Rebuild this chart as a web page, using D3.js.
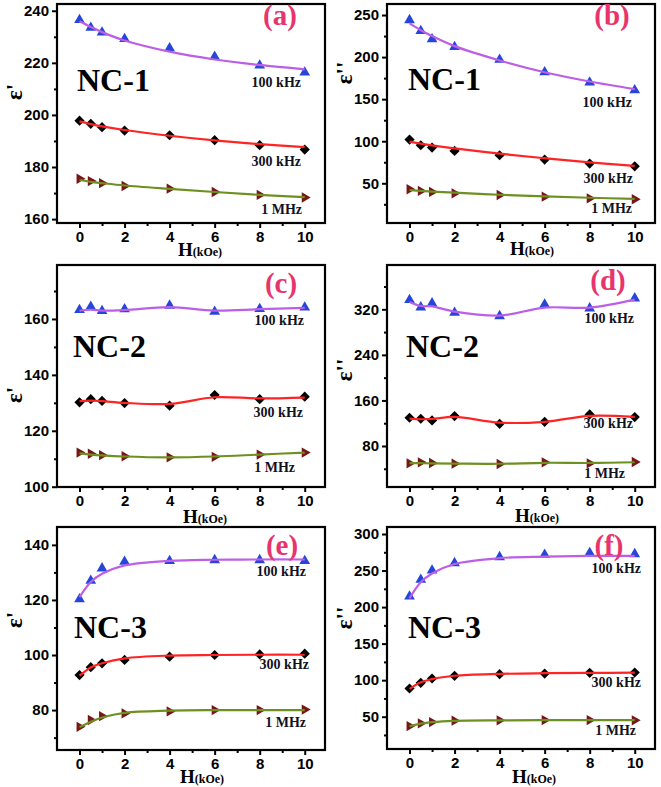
<!DOCTYPE html>
<html><head><meta charset="utf-8">
<script src="https://cdn.jsdelivr.net/npm/d3@7"></script>
<style>body{margin:0;background:#fff}</style>
</head><body>
<svg id="chart" width="661" height="787"></svg>
<script>
// ---------- data ----------
const fieldH = [0, 0.5, 1, 2, 4, 6, 8, 10];
const xMajor = [0, 2, 4, 6, 8, 10];
const xMinor = [1, 3, 5, 7, 9];
const freqLabels = ['100 kHz', '300 kHz', '1 MHz'];
const panelTags = ['(a)', '(b)', '(c)', '(d)', '(e)', '(f)'];
const sampleNames = ['NC-1', 'NC-1', 'NC-2', 'NC-2', 'NC-3', 'NC-3'];
const yTitles = ["ε'", "ε''", "ε'", "ε''", "ε'", "ε''"];

const a100 = [236.5, 233.5, 231.7, 229.2, 225.6, 222.4, 219.0, 216.3];
const a100fit = [236.0, 233.8, 231.8, 228.6, 224.3, 221.3, 219.2, 217.5];
const a300 = [197.8, 196.6, 195.3, 194.0, 192.2, 190.3, 188.4, 186.7];
const a300fit = [197.5, 196.5, 195.6, 194.2, 192.0, 190.2, 188.8, 187.6];
const a1M = [175.5, 174.6, 173.8, 172.7, 171.7, 170.4, 169.3, 168.3];
const a1Mfit = [175.0, 174.3, 173.8, 172.9, 171.6, 170.4, 169.3, 168.4];

const b100 = [244.0, 231.0, 221.4, 212.0, 197.0, 182.0, 169.8, 160.7];
const b100fit = [240.0, 232.0, 225.0, 213.0, 196.0, 182.0, 171.0, 162.0];
const b300 = [102.0, 95.2, 92.5, 88.5, 83.3, 78.2, 73.4, 70.2];
const b300fit = [99.5, 97.2, 95.1, 91.5, 85.2, 79.8, 74.8, 70.6];
const b1M = [42.9, 40.9, 39.7, 38.1, 36.1, 34.1, 32.1, 31.0];
const b1Mfit = [42.0, 41.0, 40.2, 38.8, 36.4, 34.5, 32.8, 31.4];

const c100 = [163.2, 164.4, 162.9, 163.5, 164.8, 162.6, 163.6, 164.1];
const c100fit = [163.0, 163.3, 163.0, 163.2, 164.2, 163.0, 163.5, 164.0];
const c300 = [130.2, 131.3, 130.7, 129.9, 129.0, 132.8, 131.3, 132.2];
const c300fit = [130.6, 130.8, 130.6, 130.0, 129.6, 132.0, 131.6, 131.9];
const c1M = [112.2, 111.8, 111.3, 110.9, 110.5, 110.7, 111.5, 112.2];
const c1Mfit = [111.9, 111.5, 111.2, 110.8, 110.5, 110.8, 111.5, 112.2];

const d100 = [336.4, 323.5, 330.5, 314.1, 308.2, 328.7, 321.8, 339.3];
const d100fit = [333, 326, 325, 316, 309, 323, 323, 337];
const d300 = [129.6, 127.8, 124.9, 132.5, 119.0, 122.5, 135.4, 130.7];
const d300fit = [128, 127, 127.5, 131, 121, 122.5, 133, 131];
const d1M = [49.6, 51.3, 50.1, 49.0, 48.4, 51.3, 49.6, 51.9];
const d1Mfit = [50.0, 49.8, 49.6, 49.2, 48.8, 50.5, 50.2, 51.5];

const e100 = [120.3, 127.0, 131.5, 133.9, 134.2, 134.5, 134.5, 134.2];
const e100fit = [121.0, 126.5, 129.5, 132.5, 134.2, 134.6, 134.7, 134.7];
const e300 = [92.7, 95.6, 97.0, 98.2, 99.4, 100.0, 100.2, 100.5];
const e300fit = [92.5, 95.5, 97.0, 98.8, 99.8, 100.0, 100.1, 100.1];
const e1M = [73.9, 76.4, 77.8, 78.8, 79.5, 80.0, 80.0, 80.2];
const e1Mfit = [73.8, 75.8, 77.3, 79.0, 79.8, 80.0, 80.0, 80.0];

const f100 = [214.6, 237.4, 250.2, 260.3, 268.5, 271.7, 274.0, 272.6];
const f100fit = [212, 234, 246, 259, 267, 269, 270, 270];
const f300 = [88.6, 96.3, 102.3, 105.9, 108.2, 109.0, 110.0, 110.5];
const f300fit = [88.0, 97.0, 101.5, 106.0, 108.5, 109.5, 110.0, 110.2];
const f1M = [37.2, 40.9, 42.7, 44.5, 45.0, 45.4, 45.4, 45.0];
const f1Mfit = [37.0, 40.5, 42.5, 44.3, 45.0, 45.2, 45.2, 45.2];

const yMajorA = [160, 180, 200, 220, 240], yMinorA = [170, 190, 210, 230];
const yMajorB = [50, 100, 150, 200, 250], yMinorB = [25, 75, 125, 175, 225];
const yMajorC = [100, 120, 140, 160], yMinorC = [110, 130, 150, 170];
const yMajorD = [80, 160, 240, 320], yMinorD = [40, 120, 200, 280, 360];
const yMajorE = [80, 100, 120, 140], yMinorE = [70, 90, 110, 130];
const yMajorF = [50, 100, 150, 200, 250, 300], yMinorF = [25, 75, 125, 175, 225, 275];

const yDomains = [[158.5, 242.6], [2.8, 263.1], [99.9, 179.3], [8, 397.8], [65.5, 146.5], [5.8, 309.6]];
const xDomain = [-1, 10.9];

// ---------- layout / style ----------
const frames = [
  {l: 57, t: 4, r: 325, b: 223},
  {l: 387, t: 4, r: 655, b: 223},
  {l: 57, t: 265, r: 325, b: 487},
  {l: 387, t: 265, r: 655, b: 487},
  {l: 57, t: 527, r: 325, b: 750},
  {l: 387, t: 527, r: 655, b: 749}
];
const annot = [
  {tag: [280, 25], nc: [77, 91], eps: [15, 92], h: [178, 256], fl: [[301, 87], [301, 166], [302, 214]]},
  {tag: [612, 25], nc: [408, 90], eps: [345, 73], h: [510, 255], fl: [[632, 107], [633, 183], [632, 213]]},
  {tag: [281, 293], nc: [73, 357], eps: [15, 395], h: [183, 523], fl: [[304, 325], [303, 417], [295, 472]]},
  {tag: [608, 290], nc: [406, 357], eps: [345, 370], h: [515, 522], fl: [[634, 323], [633, 428], [625, 478]]},
  {tag: [282, 555], nc: [74, 638], eps: [15, 620], h: [180, 783], fl: [[306, 576], [309, 669], [306, 727]]},
  {tag: [609, 555], nc: [408, 638], eps: [345, 618], h: [512, 783], fl: [[641, 573], [641, 687], [636, 735]]}
];
const lineColors = ['#bd5ee6', '#ff2424', '#6e9020'];
const markerColors = ['#2546d8', '#000000', '#761616'];
const serif = '"Liberation Serif","Times New Roman",serif';
const sans = '"Liberation Sans",Arial,sans-serif';

const panelSeries = [
  [[a100, a100fit], [a300, a300fit], [a1M, a1Mfit]],
  [[b100, b100fit], [b300, b300fit], [b1M, b1Mfit]],
  [[c100, c100fit], [c300, c300fit], [c1M, c1Mfit]],
  [[d100, d100fit], [d300, d300fit], [d1M, d1Mfit]],
  [[e100, e100fit], [e300, e300fit], [e1M, e1Mfit]],
  [[f100, f100fit], [f300, f300fit], [f1M, f1Mfit]]
];
const yMajors = [yMajorA, yMajorB, yMajorC, yMajorD, yMajorE, yMajorF];
const yMinors = [yMinorA, yMinorB, yMinorC, yMinorD, yMinorE, yMinorF];

const svg = d3.select('#chart');

const symTri = d3.symbol().type(d3.symbolTriangle).size(50);
const symSq = d3.symbol().type(d3.symbolSquare).size(52);
const symRt = d3.symbol().type(d3.symbolTriangle).size(46);

panelSeries.forEach((series, pi) => {
  const fr = frames[pi], an = annot[pi];
  const x = d3.scaleLinear().domain(xDomain).range([fr.l, fr.r]);
  const y = d3.scaleLinear().domain(yDomains[pi]).range([fr.b, fr.t]);
  const g = svg.append('g');

  // axes
  const xa = g.append('g').attr('transform', `translate(0,${fr.b})`)
    .call(d3.axisBottom(x).tickValues(xMajor).tickSize(5).tickSizeOuter(0).tickPadding(3).tickFormat(d3.format('d')));
  const xm = g.append('g').attr('transform', `translate(0,${fr.b})`)
    .call(d3.axisBottom(x).tickValues(xMinor).tickSize(3).tickSizeOuter(0).tickFormat(''));
  const ya = g.append('g').attr('transform', `translate(${fr.l},0)`)
    .call(d3.axisLeft(y).tickValues(yMajors[pi]).tickSize(5).tickSizeOuter(0).tickPadding(3).tickFormat(d3.format('d')));
  const ym = g.append('g').attr('transform', `translate(${fr.l},0)`)
    .call(d3.axisLeft(y).tickValues(yMinors[pi]).tickSize(3).tickSizeOuter(0).tickFormat(''));
  [xa, xm, ya, ym].forEach(a => {
    a.select('.domain').remove();
    a.selectAll('line').attr('stroke', '#000').attr('stroke-width', 2);
    a.selectAll('text').attr('fill', '#000').style('font-family', sans).style('font-weight', 'bold').style('font-size', '15px');
  });

  // markers
  series.forEach((s, si) => {
    const pts = fieldH.map((h, i) => [h, s[0][i]]);
    g.append('g').selectAll('path').data(pts).join('path')
      .attr('d', si === 0 ? symTri : si === 1 ? symSq : symRt)
      .attr('transform', d => `translate(${x(d[0])},${y(d[1])}) rotate(${si === 0 ? 0 : si === 1 ? 45 : 90})`)
      .attr('fill', markerColors[si]);
  });
  // fitted lines
  series.forEach((s, si) => {
    const pts = fieldH.map((h, i) => [h, s[1][i]]);
    g.append('path').datum(pts)
      .attr('d', d3.line().x(d => x(d[0])).y(d => y(d[1])).curve(d3.curveCatmullRom.alpha(0.5)))
      .attr('fill', 'none').attr('stroke', lineColors[si]).attr('stroke-width', 2.2);
  });

  // frame
  g.append('rect').attr('x', fr.l).attr('y', fr.t).attr('width', fr.r - fr.l).attr('height', fr.b - fr.t)
    .attr('fill', 'none').attr('stroke', '#000').attr('stroke-width', 2.2);

  // texts
  g.append('text').attr('x', an.tag[0]).attr('y', an.tag[1]).attr('text-anchor', 'middle')
    .style('font-family', serif).style('font-weight', 'bold').style('font-size', '29px')
    .attr('fill', '#e8346c').text(panelTags[pi]);
  g.append('text').attr('x', an.nc[0]).attr('y', an.nc[1])
    .style('font-family', serif).style('font-weight', 'bold').style('font-size', '32px')
    .attr('fill', '#000').text(sampleNames[pi]);
  g.append('text').attr('transform', `translate(${an.eps[0] + 7},${an.eps[1]}) rotate(-90)`)
    .attr('text-anchor', 'middle')
    .style('font-family', serif).style('font-weight', 'bold').style('font-size', '23px')
    .attr('fill', '#000').text(yTitles[pi]);
  const ht = g.append('text').attr('x', an.h[0]).attr('y', an.h[1])
    .style('font-family', serif).style('font-weight', 'bold').attr('fill', '#000');
  ht.append('tspan').style('font-size', '19px').text('H');
  ht.append('tspan').style('font-size', '12px').text('(kOe)');
  freqLabels.forEach((fl, si) => {
    g.append('text').attr('x', an.fl[si][0]).attr('y', an.fl[si][1]).attr('text-anchor', 'end')
      .style('font-family', serif).style('font-weight', 'bold').style('font-size', '14px')
      .attr('fill', '#111122').text(fl);
  });
});
</script>
</body></html>
